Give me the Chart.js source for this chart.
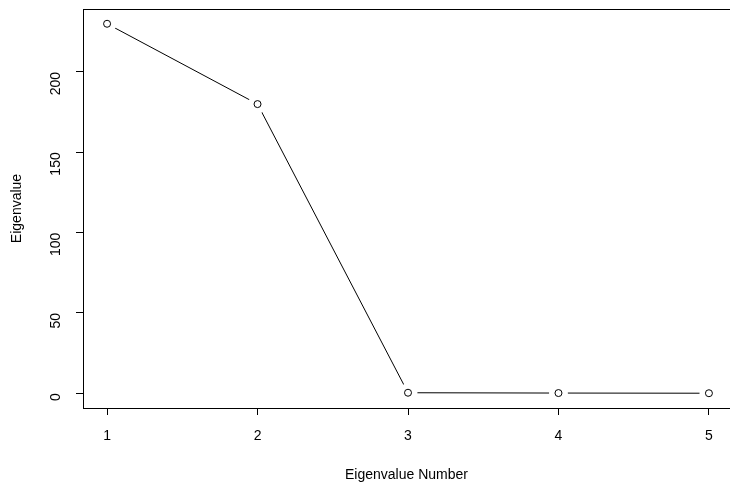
<!DOCTYPE html>
<html>
<head>
<meta charset="utf-8">
<script src="https://cdn.jsdelivr.net/npm/chart.js@4.4.1/dist/chart.umd.min.js"></script>
<style>
  html, body { margin: 0; padding: 0; background: #fff; }
</style>
</head>
<body>
<canvas id="scree" width="730" height="485"></canvas>
<script>
// ---- data ----
const eigenNumbers = [1, 2, 3, 4, 5];
const eigenValues  = [230, 180, 0.3, 0.1, 0];
const xTicks = [1, 2, 3, 4, 5];
const yTicks = [0, 50, 100, 150, 200];

const points = eigenNumbers.map((n, i) => ({ x: n, y: eigenValues[i] }));
const FONT = { family: 'Liberation Sans, Arial, sans-serif', size: 14 };

// full box round the plot region, R style (right side runs off the canvas)
const boxPlugin = {
  id: 'box',
  afterDraw(chart) {
    const { ctx, chartArea: a } = chart;
    ctx.save();
    ctx.strokeStyle = '#000';
    ctx.lineWidth = 1;
    ctx.strokeRect(Math.round(a.left) + 0.5, Math.round(a.top) + 0.5,
                   Math.round(a.right - a.left) + 4, Math.round(a.bottom - a.top));
    ctx.restore();
  }
};

new Chart(document.getElementById('scree'), {
  type: 'line',
  data: {
    datasets: [
      { // line with white halos so segments stop short of the points
        data: points,
        order: 2,
        borderColor: '#000',
        borderWidth: 1,
        tension: 0,
        pointRadius: 3.5,
        pointBorderWidth: 12,
        pointBorderColor: '#fff',
        pointBackgroundColor: '#fff'
      },
      { // hollow circles on top
        data: points,
        order: 1,
        showLine: false,
        pointRadius: 3.5,
        pointBorderWidth: 1,
        pointBorderColor: '#000',
        pointBackgroundColor: '#fff'
      }
    ]
  },
  options: {
    responsive: false,
    animation: false,
    devicePixelRatio: 1,
    layout: { autoPadding: false, padding: { left: 4, right: 0, top: 9, bottom: 0 } },
    plugins: { legend: { display: false }, tooltip: { enabled: false } },
    scales: {
      x: {
        type: 'linear',
        min: 0.84, max: 5.14,
        afterBuildTicks: (s) => { s.ticks = xTicks.map(v => ({ value: v })); },
        afterFit: (s) => { s.height = 77; s.paddingLeft = 0; s.paddingRight = 0; },
        grid: { drawOnChartArea: false, tickLength: 7, color: '#000', tickColor: '#000' },
        border: { display: false },
        ticks: { color: '#000', font: FONT, padding: 13, maxRotation: 0 },
        title: { display: true, text: 'Eigenvalue Number', color: '#000', font: FONT, padding: { top: 11, bottom: 1 } }
      },
      y: {
        type: 'linear',
        min: -9.2, max: 239.2,
        afterBuildTicks: (s) => { s.ticks = yTicks.map(v => ({ value: v })); },
        afterFit: (s) => { s.width = 79; s.paddingTop = 0; s.paddingBottom = 0; },
        grid: { drawOnChartArea: false, tickLength: 7, color: '#000', tickColor: '#000' },
        border: { display: false },
        ticks: { color: '#000', font: FONT, padding: 20, minRotation: 90, maxRotation: 90 },
        title: { display: true, text: 'Eigenvalue', color: '#000', font: FONT, padding: { top: 5, bottom: 2 } }
      }
    }
  },
  plugins: [boxPlugin]
});
</script>
</body>
</html>
